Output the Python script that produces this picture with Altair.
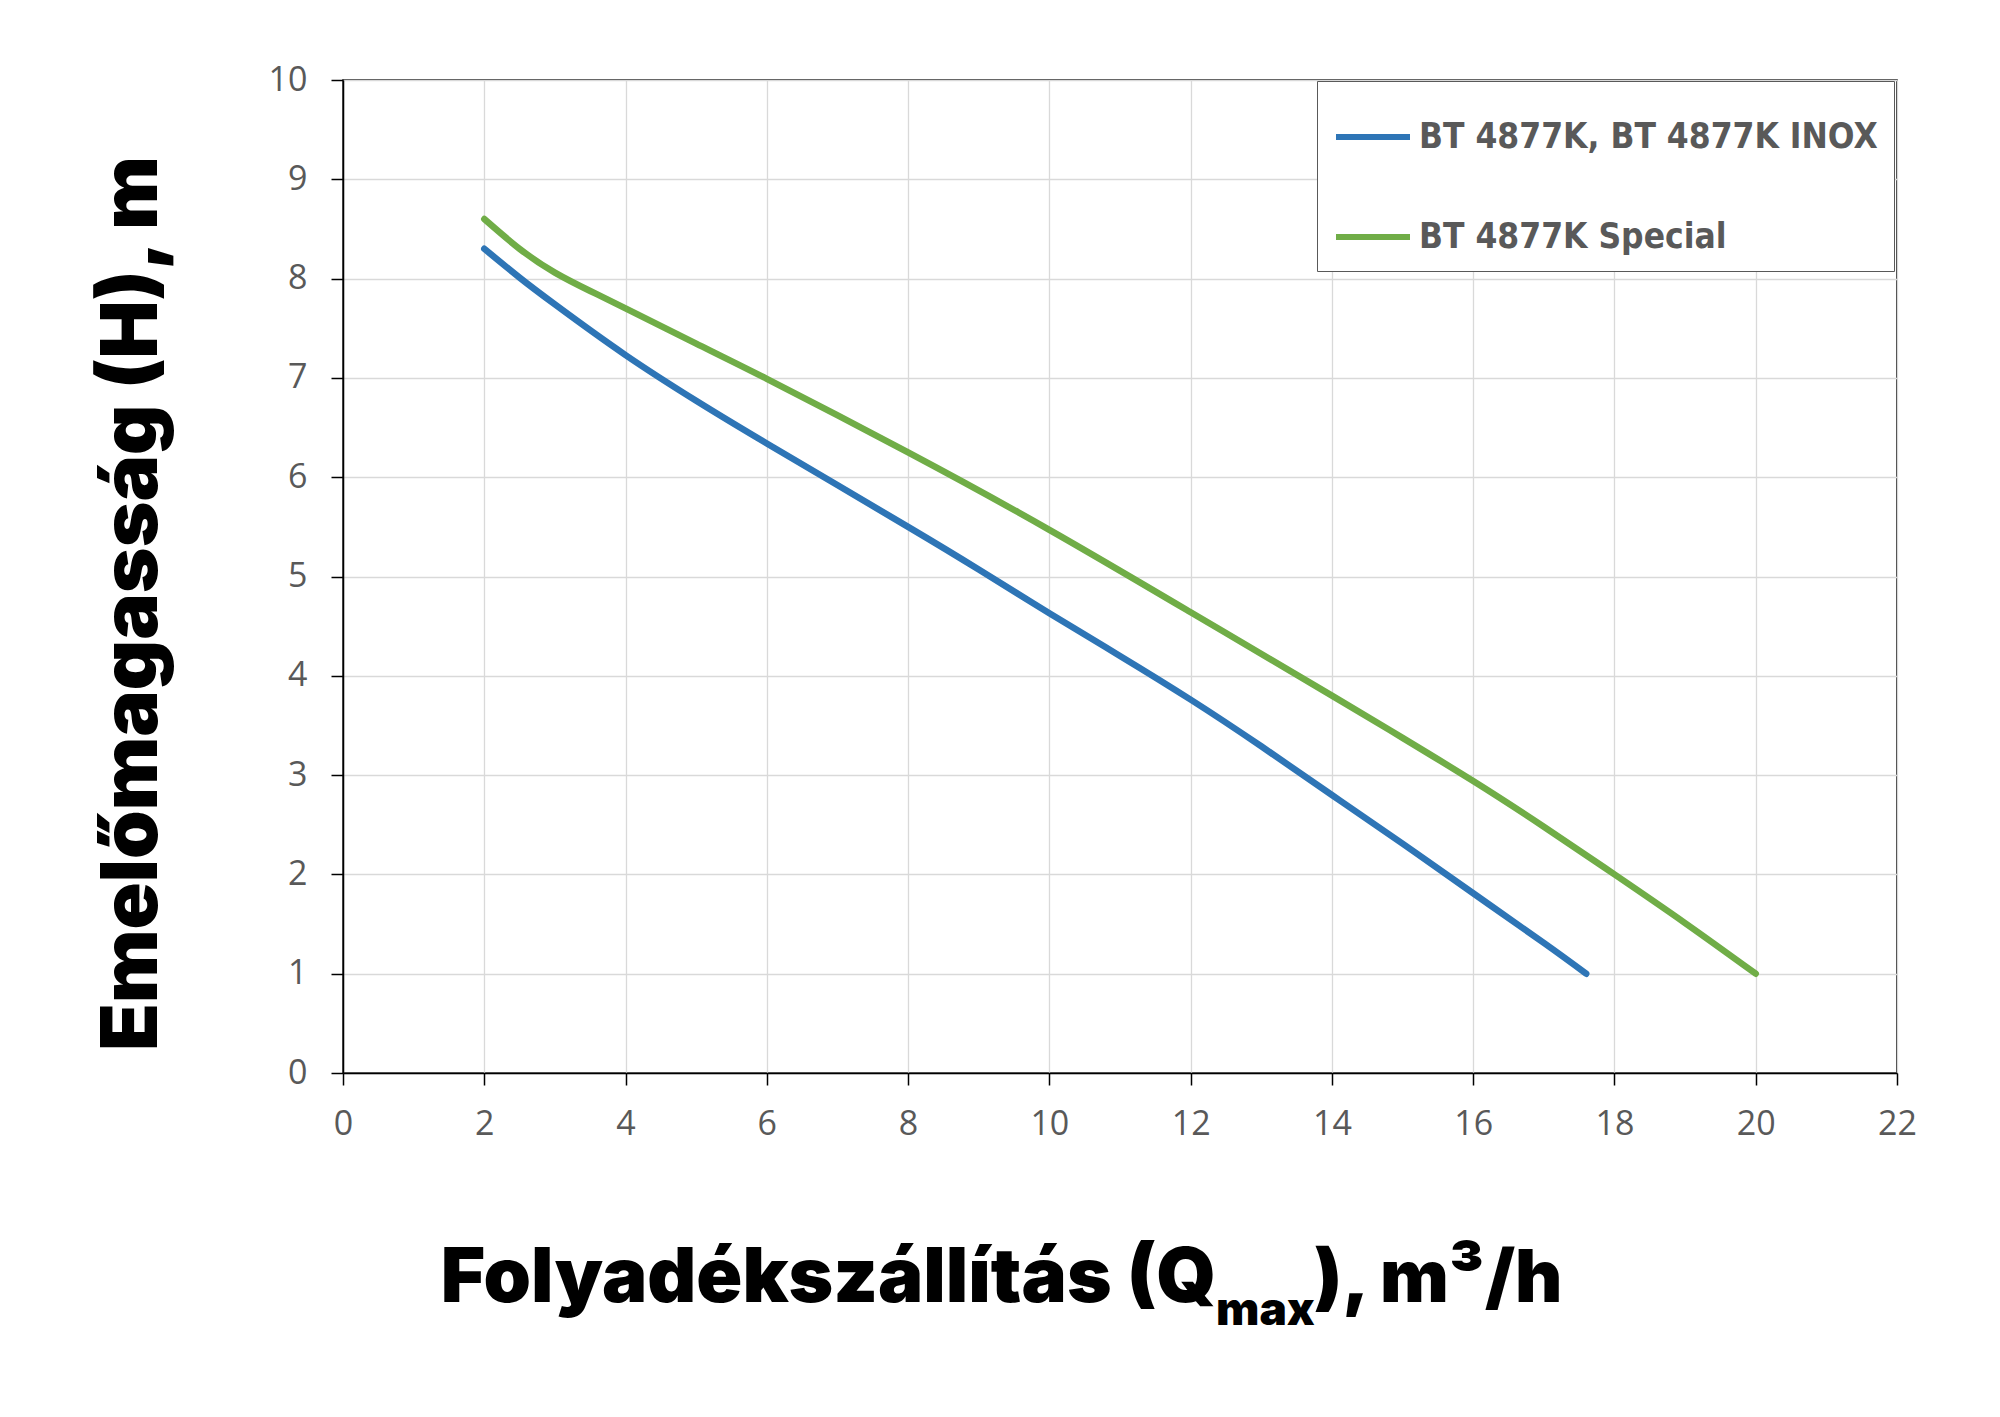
import altair as alt
import pandas as pd

# ---- data ----
series_names = ["BT 4877K, BT 4877K INOX", "BT 4877K Special"]
series_colors = ["#2E75B6", "#70AD47"]

blue_q = [2, 2.5, 3, 4, 5, 6, 8, 9, 10, 11, 12, 13, 14, 15, 16, 17, 17.6]
blue_h = [8.30, 8.01, 7.74, 7.23, 6.77, 6.34, 5.50, 5.07, 4.63, 4.20, 3.76, 3.29, 2.80, 2.31, 1.81, 1.31, 1.0]

green_q = [2, 2.5, 3, 3.5, 4, 5, 6, 8, 10, 12, 14, 15, 16, 17, 18, 19, 20]
green_h = [8.60, 8.30, 8.06, 7.875, 7.70, 7.345, 6.99, 6.25, 5.47, 4.64, 3.80, 3.375, 2.94, 2.48, 2.00, 1.51, 1.0]

x_ticks = list(range(0, 23, 2))
y_ticks = list(range(0, 11, 1))

y_title = "Emelőmagasság (H), m"
x_title_parts = ["Folyadékszállítás (Q", "max", "), m³/h"]

rows = []
for q, h in zip(blue_q, blue_h):
    rows.append({"Q": q, "H": h, "series": series_names[0]})
for q, h in zip(green_q, green_h):
    rows.append({"Q": q, "H": h, "series": series_names[1]})
df = pd.DataFrame(rows)

W, H = 1554, 993
TITLE_FONT = "Inter"
TICK_FONT = "Open Sans"
GRAY = "#595959"

lines = alt.Chart(df).mark_line(
    strokeWidth=6.5, strokeCap="round", strokeJoin="round", interpolate="natural"
).encode(
    x=alt.X(
        "Q:Q",
        scale=alt.Scale(domain=[0, 22], nice=False),
        axis=alt.Axis(values=x_ticks, title=None, format="d", labelFlush=False),
    ),
    y=alt.Y(
        "H:Q",
        scale=alt.Scale(domain=[0, 10], nice=False),
        axis=alt.Axis(
            values=y_ticks,
            format="d",
            labelFlush=False,
            title=y_title,
            titleFont=TITLE_FONT,
            titleFontWeight=900,
            titleFontSize=78,
            titleColor="#000000",
            titleAngle=270,
            titleAlign="center",
            titleBaseline="alphabetic",
            titleX=-187,
            titleY=523,
        ),
    ),
    color=alt.Color(
        "series:N",
        scale=alt.Scale(domain=series_names, range=series_colors),
        legend=alt.Legend(
            title=None,
            orient="none",
            legendX=974,
            legendY=1,
            symbolType="stroke",
            symbolSize=5476,
            symbolStrokeWidth=6,
            labelFont="DejaVu Sans Condensed",
            labelFontWeight="bold",
            labelFontSize=35,
            labelColor=GRAY,
            labelOffset=6,
            labelLimit=800,
            rowPadding=42,
            padding=16,
            strokeColor="#595959",
            fillColor="#FFFFFF",
        ),
    ),
)

def title_piece(text, x, y, size, align):
    return alt.Chart(pd.DataFrame({"t": [text]})).mark_text(
        font=TITLE_FONT,
        fontWeight=900,
        fontSize=size,
        color="#000000",
        align=align,
        baseline="alphabetic",
    ).encode(text="t:N", x=alt.value(x), y=alt.value(y))

t1 = title_piece(x_title_parts[0], 873, 1222, 76, "right")
t2 = title_piece(x_title_parts[1], 873, 1245, 46, "left")
t3 = title_piece(x_title_parts[2], 971, 1222, 73, "left")

chart = alt.layer(lines, t1, t2, t3).properties(
    width=W,
    height=H,
    autosize=alt.AutoSizeParams(type="none"),
    padding={"left": 335, "top": 72, "right": 95, "bottom": 330},
).configure_view(
    stroke="#000000", strokeWidth=1.5
).configure_axis(
    labelFont=TICK_FONT,
    labelFontSize=34,
    labelColor=GRAY,
    domainColor="#000000",
    domainWidth=1.5,
    tickColor="#000000",
    tickWidth=1.5,
    tickSize=12,
    gridColor="#D9D9D9",
    gridWidth=1.3,
).configure_axisX(
    labelPadding=22,
).configure_axisY(
    labelPadding=24,
)

chart.save("out.html", embed_options={"renderer": "svg", "actions": False})
